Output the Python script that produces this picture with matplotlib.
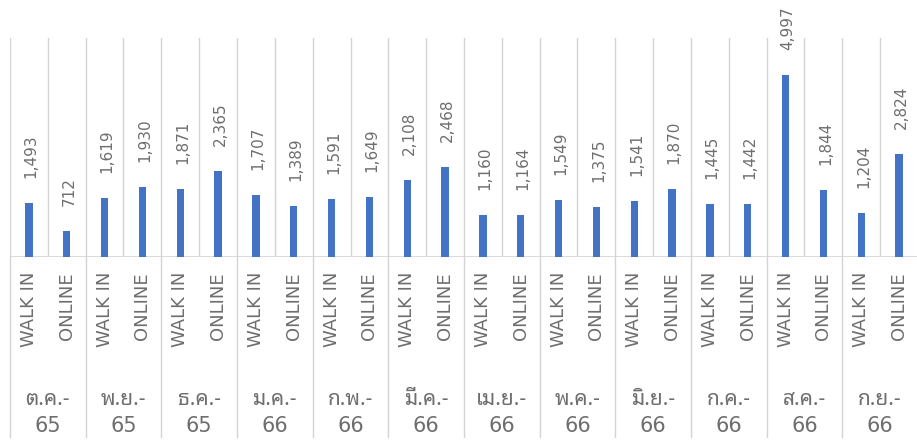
import matplotlib
matplotlib.use("Agg")
import matplotlib.pyplot as plt
import matplotlib.transforms as mtransforms

plt.rcParams['font.family'] = ['DejaVu Sans', 'Noto Sans Thai Looped']
thai_font = ['Noto Sans Thai Looped', 'DejaVu Sans']

# data
months = ["ต.ค.-", "พ.ย.-", "ธ.ค.-", "ม.ค.-", "ก.พ.-", "มี.ค.-",
          "เม.ย.-", "พ.ค.-", "มิ.ย.-", "ก.ค.-", "ส.ค.-", "ก.ย.-"]
years = ["65", "65", "65", "66", "66", "66",
         "66", "66", "66", "66", "66", "66"]
channels = ["WALK IN", "ONLINE"]
walk_in = [1493, 1619, 1871, 1707, 1591, 2108, 1160, 1549, 1541, 1445, 4997, 1204]
online = [712, 1930, 2365, 1389, 1649, 2468, 1164, 1375, 1870, 1442, 1844, 2824]

values = []
for w, o in zip(walk_in, online):
    values += [w, o]
xs = list(range(len(values)))

bar_color = "#4472C4"
text_color = "#6E6E6E"
grid_color = "#D4D4D4"

W, H = 917, 445
fig = plt.figure(figsize=(W / 100, H / 100), dpi=100)
left, right, top, base = 10, 918, 38, 257
ax = fig.add_axes([left / W, (H - base) / H, (right - left) / W, (base - top) / H])

ax.bar(xs, values, width=0.19, color=bar_color, zorder=3)
ax.set_xlim(-0.5, len(values) - 0.5)
ax.set_ylim(0, 6000)

# vertical gridlines between categories
for b in range(len(values) + 1):
    ax.axvline(b - 0.5, color=grid_color, lw=1, zorder=1)
ax.axhline(0, color=grid_color, lw=1.2, zorder=2)

for s in ax.spines.values():
    s.set_visible(False)
ax.set_xticks([])
ax.set_yticks([])

# value labels
for x, v in zip(xs, values):
    ax.annotate(f"{v:,}", (x, v), xytext=(1.5, 18), textcoords="offset points",
                rotation=90, ha="center", va="bottom", fontsize=11,
                color=text_color)

# multi-level category axis
trans = mtransforms.blended_transform_factory(ax.transData, ax.transAxes)
px = 1 / (base - top)
for g in range(len(months) + 1):
    ax.plot([2 * g - 0.5, 2 * g - 0.5], [0, -(437 - base) * px], transform=trans,
            color=grid_color, lw=1, clip_on=False, zorder=1)

for x in xs:
    ax.text(x, -15 * px, channels[x % 2], transform=trans, rotation=90,
            ha="center", va="top", fontsize=13, color=text_color)

for i, (m, y) in enumerate(zip(months, years)):
    cx = 2 * i + 0.5
    ax.text(cx, -(405 - base) * px, m, transform=trans, ha="center",
            va="baseline", fontsize=15, color=text_color, family=thai_font)
    ax.text(cx, -(432 - base) * px, y, transform=trans, ha="center",
            va="baseline", fontsize=15, color=text_color)

fig.savefig("out.png", dpi=100)
